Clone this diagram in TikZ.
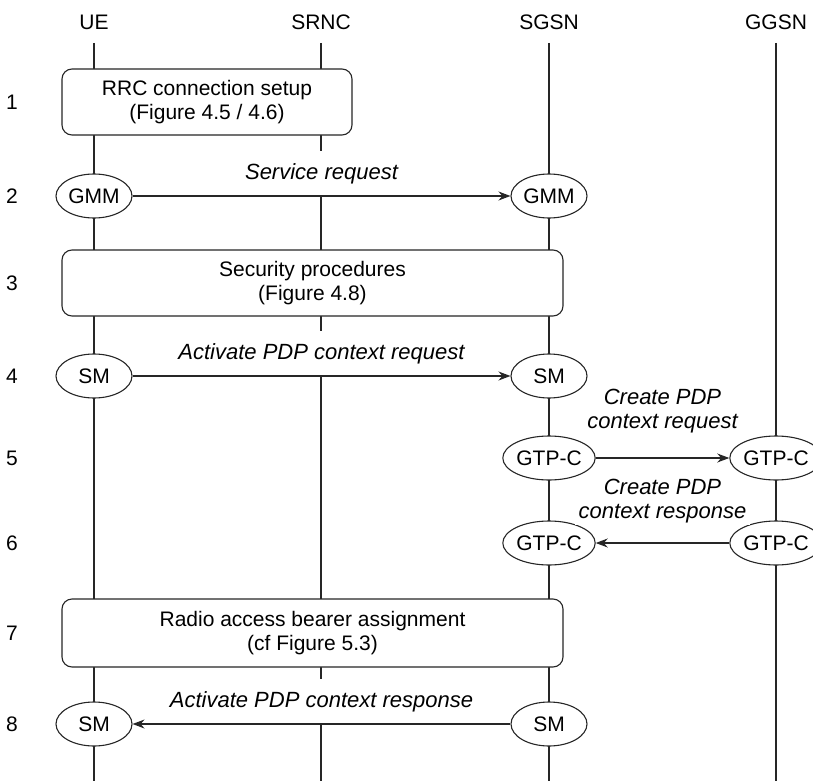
\documentclass[tikz,border=0pt]{standalone}
\usepackage{fontspec}
\setmainfont{Liberation Sans}
\usetikzlibrary{arrows.meta,shapes.geometric}

\begin{document}
\begin{tikzpicture}[x=1pt,y=-1pt,
  txt/.style={font=\fontsize{21}{24}\selectfont},
  head/.style={txt, inner sep=3.33pt},
  stepno/.style={txt},
  life/.style={line width=1.1pt, black!85},
  procbox/.style={txt, draw=black!85, line width=1.1pt, rounded corners=10pt,
    fill=white, align=center, inner sep=0pt},
  peer/.style={txt, draw=black!85, ellipse, line width=1.1pt, fill=white,
    minimum width=76pt, minimum height=44pt, inner sep=0pt},
  msg/.style={line width=1.1pt, black!85, -{Stealth[length=12pt,width=9pt]}},
  msglabel/.style={font=\fontsize{22}{23.5}\selectfont\itshape, fill=white,
    align=center, inner xsep=4pt, inner ysep=12pt}
]
\useasboundingbox (0,0) rectangle (813,781);

% entities and their lifelines
\node[head] (ue)   at (94,22)  {UE};
\node[head] (srnc) at (321,22) {SRNC};
\node[head] (sgsn) at (549,22) {SGSN};
\node[head] (ggsn) at (776,22) {GGSN};
\coordinate (ue-bot)   at (94,781);
\coordinate (srnc-bot) at (321,781);
\coordinate (sgsn-bot) at (549,781);
\coordinate (ggsn-bot) at (776,781);
\foreach \n in {ue,srnc,sgsn,ggsn}
  \draw[life, shorten <=10pt] (\n) -- (\n-bot);

% step numbers
\node[stepno] (n1) at (12,102) {1};
\node[stepno] (n2) at (12,196) {2};
\node[stepno] (n3) at (12,283) {3};
\node[stepno] (n4) at (12,376) {4};
\node[stepno] (n5) at (12,458) {5};
\node[stepno] (n6) at (12,543) {6};
\node[stepno] (n7) at (12,633) {7};
\node[stepno] (n8) at (12,724) {8};

% 1: RRC connection setup
\node[procbox, minimum width=290pt, minimum height=66pt] (rrc) at (207,102)
  {RRC connection setup\\(Figure 4.5 / 4.6)};

% 2: service request
\node[peer] (gmm-ue)   at (94,196)  {GMM};
\node[peer] (gmm-sgsn) at (549,196) {GMM};
\node[msglabel, anchor=south] (l2) at (321.5,196) {Service request};
\draw[msg] (gmm-ue) -- (gmm-sgsn);

% 3: security procedures
\node[procbox, minimum width=501pt, minimum height=66pt] (sec) at (312.5,283)
  {Security procedures\\(Figure 4.8)};

% 4: activate PDP context request
\node[peer] (sm-ue4)   at (94,376)  {SM};
\node[peer] (sm-sgsn4) at (549,376) {SM};
\node[msglabel, anchor=south] (l4) at (321.5,376) {Activate PDP context request};
\draw[msg] (sm-ue4) -- (sm-sgsn4);

% 5: create PDP context request
\node[peer] (gtp-sgsn5) at (549,458) {GTP-C};
\node[peer] (gtp-ggsn5) at (776,458) {GTP-C};
\node[msglabel, inner ysep=2pt] (l5) at (662.5,411) {Create PDP\\context request};
\draw[msg] (gtp-sgsn5) -- (gtp-ggsn5);

% 6: create PDP context response
\node[peer] (gtp-sgsn6) at (549,543) {GTP-C};
\node[peer] (gtp-ggsn6) at (776,543) {GTP-C};
\node[msglabel, inner ysep=2pt] (l6) at (662.5,501) {Create PDP\\context response};
\draw[msg] (gtp-ggsn6) -- (gtp-sgsn6);

% 7: radio access bearer assignment
\node[procbox, minimum width=501pt, minimum height=68pt] (rab) at (312.5,633)
  {Radio access bearer assignment\\(cf Figure 5.3)};

% 8: activate PDP context response
\node[peer] (sm-ue8)   at (94,724)  {SM};
\node[peer] (sm-sgsn8) at (549,724) {SM};
\node[msglabel, anchor=south] (l8) at (321.5,724) {Activate PDP context response};
\draw[msg] (sm-sgsn8) -- (sm-ue8);
\end{tikzpicture}
\end{document}
